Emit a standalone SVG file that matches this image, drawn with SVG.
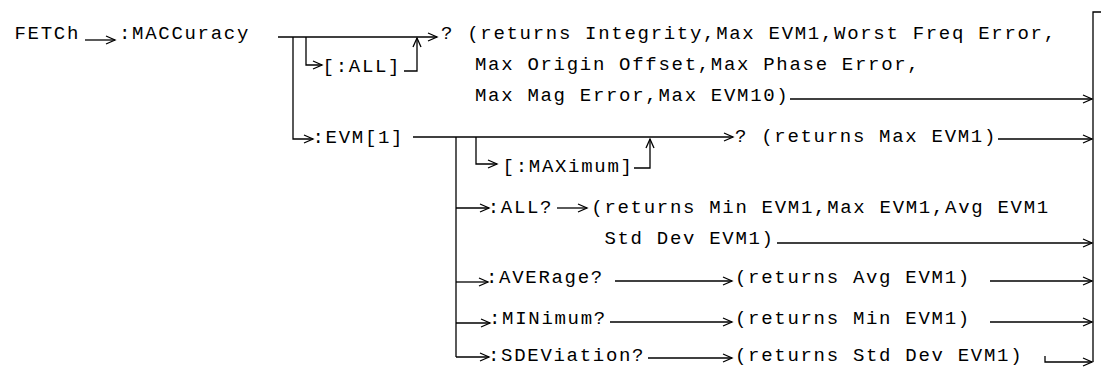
<svg xmlns="http://www.w3.org/2000/svg" width="1101" height="372" viewBox="0 0 1101 372">
<defs>
<style>
text{font-family:"Liberation Mono","Courier New",monospace;font-size:19px;letter-spacing:1.7px;fill:#000}
.c{stroke:#000;stroke-width:1.3;fill:none}
.a{stroke:#000;stroke-width:1.3;fill:none;marker-end:url(#ah)}
</style>
<marker id="ah" markerUnits="userSpaceOnUse" markerWidth="12" markerHeight="12" refX="10" refY="5" orient="auto" overflow="visible">
<path d="M1,1 L10,5 L1,9" fill="none" stroke="#000" stroke-width="1.3"/>
</marker>
</defs>
<rect width="1101" height="372" fill="#fff"/>
<g id="connectors">
<line class="a" x1="85" y1="40" x2="115" y2="40"/>
<line class="a" x1="278" y1="37" x2="437" y2="37"/>
<path class="a" d="M306,37 V65 H322"/>
<path class="a" d="M404,71 H417 V38"/>
<line class="a" x1="790" y1="99" x2="1092" y2="99"/>
<path class="c" d="M1101,12 H1093 V362"/>
<path class="a" d="M293,37 V139 H313"/>
<line class="a" x1="413" y1="137" x2="733" y2="137"/>
<line class="a" x1="998" y1="139" x2="1092" y2="139"/>
<path class="c" d="M456,137 V357"/>
<path class="a" d="M476,137 V164 H497"/>
<path class="a" d="M634,168 H650 V139"/>
<line class="a" x1="456" y1="208" x2="489" y2="208"/>
<line class="a" x1="557" y1="208" x2="587" y2="208"/>
<line class="a" x1="777" y1="243" x2="1092" y2="243"/>
<line class="a" x1="456" y1="282" x2="488" y2="282"/>
<line class="a" x1="615" y1="281" x2="732" y2="281"/>
<line class="a" x1="990" y1="281" x2="1092" y2="281"/>
<line class="a" x1="456" y1="323" x2="490" y2="323"/>
<line class="a" x1="610" y1="322" x2="732" y2="322"/>
<line class="a" x1="990" y1="322" x2="1092" y2="322"/>
<line class="a" x1="456" y1="357" x2="489" y2="357"/>
<line class="a" x1="648" y1="358" x2="732" y2="358"/>
<path class="a" d="M1045,356 V362 H1092"/>
</g>
<g id="fetch"><text x="14.5" y="39">FETCh</text></g>
<g id="maccuracy"><text x="119" y="39">:MACCuracy</text></g>
<g id="all-opt"><text x="322.6" y="72">[:ALL]</text></g>
<g id="maccuracy-query">
<text x="441" y="39">? (returns Integrity,Max EVM1,Worst Freq Error,</text>
<text x="475" y="70">Max Origin Offset,Max Phase Error,</text>
<text x="475" y="101">Max Mag Error,Max EVM10)</text>
</g>
<g id="evm"><text x="312.5" y="143">:EVM[1]</text></g>
<g id="evm-query"><text x="735" y="142">? (returns Max EVM1)</text></g>
<g id="maximum"><text x="502.6" y="172">[:MAXimum]</text></g>
<g id="all-query"><text x="487.7" y="213">:ALL?</text></g>
<g id="all-returns">
<text x="591.3" y="213">(returns Min EVM1,Max EVM1,Avg EVM1</text>
<text x="604.4" y="244">Std Dev EVM1)</text>
</g>
<g id="average"><text x="486" y="283">:AVERage?</text></g>
<g id="average-returns"><text x="735" y="283">(returns Avg EVM1)</text></g>
<g id="minimum"><text x="489" y="324">:MINimum?</text></g>
<g id="minimum-returns"><text x="735" y="324">(returns Min EVM1)</text></g>
<g id="sdeviation"><text x="488" y="361">:SDEViation?</text></g>
<g id="sdeviation-returns"><text x="735" y="361">(returns Std Dev EVM1)</text></g>
</svg>
